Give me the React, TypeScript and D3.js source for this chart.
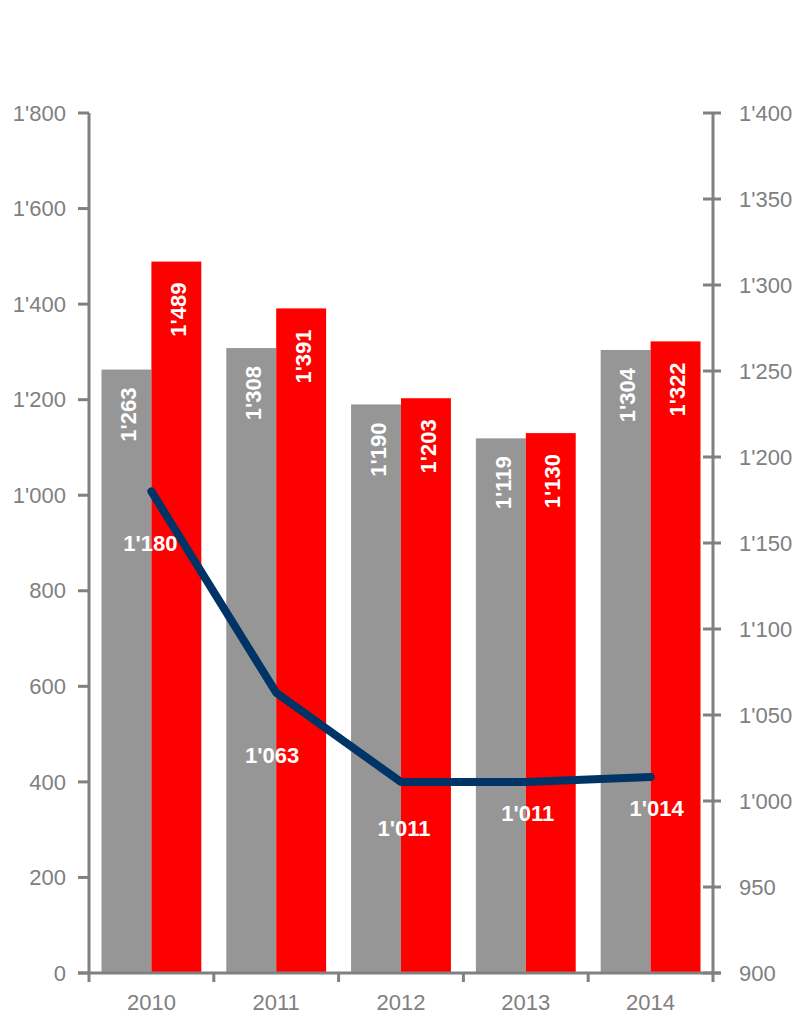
import React from "react";
import * as d3 from "d3";

const years = ["2010", "2011", "2012", "2013", "2014"];
const greyValues = [1263, 1308, 1190, 1119, 1304];
const redValues = [1489, 1391, 1203, 1130, 1322];
const lineValues = [1180, 1063, 1011, 1011, 1014];
const leftTicks = [0, 200, 400, 600, 800, 1000, 1200, 1400, 1600, 1800];
const rightTicks = [900, 950, 1000, 1050, 1100, 1150, 1200, 1250, 1300, 1350, 1400];
// label offsets relative to line points (style)
const lineLabelDx = [-1, -4, 3, 2, 6];
const lineLabelDy = [52, 63, 46, 31, 31];

const W = 802;
const H = 1014;
const X0 = 89;
const X1 = 713;
const Y0 = 973;
const Y1 = 113;

const fmt = (v: number) => {
  const s = String(v);
  if (s.length > 3) return s.slice(0, s.length - 3) + "'" + s.slice(s.length - 3);
  return s;
};

const FONT = "'Liberation Sans', Arial, sans-serif";
const AXIS = "#808080";

export default function App() {
  const x = d3.scaleBand<string>().domain(years).range([X0, X1]);
  const yL = d3.scaleLinear().domain([0, 1800]).range([Y0, Y1]);
  const yR = d3.scaleLinear().domain([900, 1400]).range([Y0, Y1]);
  const bw = x.bandwidth() * 0.4;
  const cx = (y: string) => (x(y) as number) + x.bandwidth() / 2;

  const line = d3
    .line<number>()
    .x((_, i) => cx(years[i]))
    .y((d) => yR(d));

  return (
    <svg
      width={W}
      height={H}
      style={{ position: "absolute", left: 0, top: 0, display: "block", background: "#fff" }}
      fontFamily={FONT}
    >
      {/* bars */}
      {years.map((yr, i) => (
        <g key={yr}>
          <rect x={cx(yr) - bw} y={yL(greyValues[i])} width={bw} height={Y0 - yL(greyValues[i])} fill="#969696" />
          <rect x={cx(yr)} y={yL(redValues[i])} width={bw} height={Y0 - yL(redValues[i])} fill="#FF0000" />
          <text
            transform={`translate(${cx(yr) - bw / 2 + 2},${yL(greyValues[i]) + 18}) rotate(-90)`}
            textAnchor="end"
            dy="0.35em"
            fill="#fff"
            fontWeight="bold"
            fontSize={22}
          >
            {fmt(greyValues[i])}
          </text>
          <text
            transform={`translate(${cx(yr) + bw / 2 + 2},${yL(redValues[i]) + 21}) rotate(-90)`}
            textAnchor="end"
            dy="0.35em"
            fill="#fff"
            fontWeight="bold"
            fontSize={22}
          >
            {fmt(redValues[i])}
          </text>
        </g>
      ))}

      {/* line */}
      <path d={line(lineValues) || ""} fill="none" stroke="#003366" strokeWidth={8} strokeLinecap="round" strokeLinejoin="round" />
      {lineValues.map((v, i) => (
        <text
          key={i}
          x={cx(years[i]) + lineLabelDx[i]}
          y={yR(v) + lineLabelDy[i]}
          dy="0.35em"
          textAnchor="middle"
          fill="#fff"
          fontWeight="bold"
          fontSize={22}
        >
          {fmt(v)}
        </text>
      ))}

      {/* left axis */}
      <line x1={X0} x2={X0} y1={Y1} y2={Y0} stroke={AXIS} strokeWidth={3} />
      {leftTicks.map((t) => (
        <g key={t}>
          <line x1={X0 - 11} x2={X0} y1={yL(t)} y2={yL(t)} stroke={AXIS} strokeWidth={3} />
          <text x={X0 - 23} y={yL(t)} dy="0.35em" textAnchor="end" fill={AXIS} fontSize={22}>
            {fmt(t)}
          </text>
        </g>
      ))}

      {/* right axis */}
      <line x1={X1} x2={X1} y1={Y1} y2={Y0} stroke={AXIS} strokeWidth={3} />
      {rightTicks.map((t) => (
        <g key={t}>
          <line x1={X1 - 10} x2={X1 + 8} y1={yR(t)} y2={yR(t)} stroke={AXIS} strokeWidth={3} />
          <text x={X1 + 26} y={yR(t)} dy="0.35em" textAnchor="start" fill={AXIS} fontSize={22}>
            {fmt(t)}
          </text>
        </g>
      ))}

      {/* x axis */}
      <line x1={X0 - 11} x2={X1 + 8} y1={Y0} y2={Y0} stroke={AXIS} strokeWidth={3} />
      {years.map((yr) => (
        <line key={"t" + yr} x1={x(yr) as number} x2={x(yr) as number} y1={Y0} y2={Y0 + 9} stroke={AXIS} strokeWidth={3} />
      ))}
      <line x1={X1} x2={X1} y1={Y0} y2={Y0 + 9} stroke={AXIS} strokeWidth={3} />
      {years.map((yr) => (
        <text key={"l" + yr} x={cx(yr)} y={Y0 + 29} dy="0.35em" textAnchor="middle" fill={AXIS} fontSize={22}>
          {yr}
        </text>
      ))}
    </svg>
  );
}
